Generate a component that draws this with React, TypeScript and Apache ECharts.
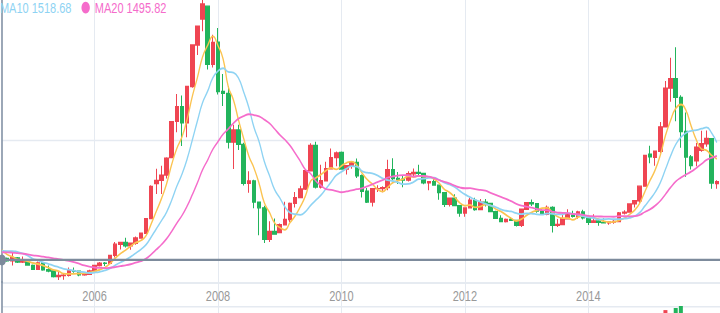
import React, { useEffect, useRef } from 'react';
import * as echarts from 'echarts';

// ---- categories: monthly, Jul 2004 .. Mar 2016 (last slot empty) ----
const firstYear = 2004;
const firstMonth = 7;
const categoryCount = 141;
const categories: string[] = [];
for (let i = 0; i < categoryCount; i++) {
  const m = firstMonth - 1 + i;
  const y = firstYear + Math.floor(m / 12);
  const mm = (m % 12) + 1;
  categories.push(`${y}-${mm < 10 ? '0' + mm : mm}`);
}

const yearTicks = ['2006-01', '2008-01', '2010-01', '2012-01', '2014-01'];

// ---- monthly OHLC (Jul 2004 .. Feb 2016) ----
const opens = [
  1399, 1386, 1342, 1396, 1320, 1340,
  1261, 1191, 1306, 1181, 1159, 1060, 1080, 1083, 1162, 1155, 1092, 1099,
  1163, 1258, 1299, 1298, 1440, 1641, 1672, 1612, 1658, 1752, 1837, 2099,
  2728, 2786, 2881, 3196, 3845, 4109, 3820, 4471, 5218, 5683, 5914, 4871,
  5266, 4383, 4348, 3473, 3693, 3433, 2736, 2775, 2397, 2293, 1728, 1871,
  1849, 1991, 2082, 2373, 2477, 2633, 2959, 3412, 2667, 2779, 2996, 3195,
  3289, 2989, 3052, 3110, 2871, 2592, 2398, 2638, 2639, 2656, 2979, 2820,
  2808, 2791, 2905, 2928, 2911, 2743, 2762, 2701, 2567, 2359, 2468, 2333,
  2199, 2293, 2428, 2263, 2397, 2373, 2226, 2103, 2047, 2086, 2069, 1980,
  2269, 2385, 2366, 2237, 2178, 2301, 1979, 1994, 2098, 2175, 2141, 2220,
  2116, 2033, 2056, 2033, 2026, 2039, 2048, 2202, 2217, 2364, 2420, 2683,
  3258, 3200, 3310, 3748, 4442, 4612, 4277, 3664, 3206, 3140, 3325, 3445,
  3536, 2730,
];
const closes = [
  1386.2, 1342.06, 1396.7, 1320.54, 1340.77, 1266.5,
  1191.82, 1306.0, 1181.24, 1159.15, 1060.74, 1080.94, 1083.03, 1162.8, 1155.61, 1092.82, 1099.26, 1161.06,
  1258.05, 1299.03, 1298.3, 1440.22, 1641.3, 1672.21, 1612.73, 1658.64, 1752.42, 1837.99, 2099.29, 2675.47,
  2786.34, 2881.07, 3183.98, 3841.27, 4109.65, 3820.7, 4471.03, 5218.83, 5552.3, 5954.77, 4871.78, 5261.56,
  4383.39, 4348.54, 3472.71, 3693.11, 3433.35, 2736.1, 2775.72, 2397.37, 2293.78, 1728.79, 1871.16, 1820.81,
  1990.66, 2082.85, 2373.21, 2477.57, 2632.93, 2959.36, 3412.06, 2667.74, 2779.43, 2995.85, 3195.3, 3277.14,
  2989.29, 3051.94, 3109.1, 2870.61, 2592.15, 2398.37, 2637.5, 2638.8, 2655.66, 2978.83, 2820.18, 2808.08,
  2790.69, 2905.05, 2928.11, 2911.51, 2743.47, 2762.08, 2701.73, 2567.34, 2359.22, 2468.25, 2333.41, 2199.42,
  2292.61, 2428.49, 2262.79, 2396.32, 2372.23, 2225.43, 2103.63, 2047.52, 2086.17, 2068.88, 1980.12, 2269.13,
  2385.42, 2365.59, 2236.62, 2177.91, 2300.59, 1979.21, 1993.8, 2098.38, 2174.67, 2141.61, 2220.5, 2115.98,
  2033.08, 2056.3, 2033.31, 2026.36, 2039.21, 2048.33, 2201.56, 2217.2, 2363.87, 2420.18, 2682.83, 3234.68,
  3210.36, 3310.3, 3747.9, 4441.66, 4611.74, 4277.22, 3663.73, 3205.99, 3052.78, 3382.56, 3445.4, 3539.18,
  2737.6, 2763.49,
];
const lows = [
  1336, 1327, 1259, 1301, 1301, 1259,
  1177, 1189, 1165, 1136, 1043, 998, 1004, 1061, 1126, 1067, 1074, 1090,
  1160, 1240, 1250, 1290, 1400, 1544, 1580, 1541, 1630, 1750, 1830, 2090,
  2540, 2541, 2821, 3196, 3650, 3404, 3563, 4450, 5036, 5462, 4778, 4812,
  4330, 4123, 3357, 2990, 3333, 2693, 2566, 2284, 1802, 1664, 1678, 1814,
  1844, 1991, 2037, 2300, 2466, 2615, 2959, 2639, 2639, 2770, 2990, 3039,
  2986, 2890, 2996, 2827, 2481, 2382, 2319, 2580, 2573, 2610, 2775, 2721,
  2661, 2765, 2838, 2865, 2715, 2610, 2692, 2437, 2307, 2319, 2321, 2134,
  2132, 2290, 2242, 2262, 2318, 2220, 2100, 2045, 2029, 2057, 1959, 1949,
  2264, 2327, 2206, 2165, 2162, 1849, 1951, 1994, 2082, 2122, 2098, 2085,
  1985, 2032, 1974, 2024, 1992, 2010, 2034, 2172, 2205, 2300, 2364, 2676,
  3095, 3049, 3276, 3736, 4198, 3847, 3373, 2851, 2983, 3039, 3300, 3389,
  2638, 2638,
];
const highs = [
  1440, 1400, 1496, 1410, 1420, 1351,
  1276, 1329, 1310, 1260, 1164, 1146, 1110, 1223, 1223, 1160, 1110, 1180,
  1270, 1320, 1320, 1445, 1678, 1683, 1757, 1660, 1780, 1850, 2100, 2698,
  2994, 3049, 3200, 3842, 4335, 4312, 4472, 5219, 5559, 6124, 5914, 5400,
  5522, 4695, 4472, 3786, 3786, 3460, 2952, 2800, 2400, 2333, 2051, 2100,
  2012, 2402, 2390, 2580, 2688, 2965, 3454, 3478, 3068, 3123, 3361, 3306,
  3306, 3060, 3135, 3181, 2890, 2650, 2650, 2700, 2680, 3159, 3186, 2935,
  2867, 2950, 3000, 3067, 2920, 2765, 2827, 2707, 2568, 2480, 2536, 2342,
  2300, 2478, 2476, 2454, 2453, 2386, 2240, 2160, 2100, 2130, 2080, 2276,
  2392, 2444, 2372, 2270, 2335, 2320, 2092, 2198, 2270, 2242, 2243, 2260,
  2123, 2177, 2075, 2107, 2054, 2078, 2218, 2248, 2365, 2426, 2684, 3239,
  3406, 3324, 3835, 4572, 4986, 5178, 4317, 4006, 3243, 3457, 3678, 3684,
  3539, 2790,
];
// closes of the 19 months before the visible window (Dec 2002 .. Jun 2004), used by the averages
const priorCloses = [
  1357.65, 1499.81, 1511.93, 1510.42, 1521.44, 1576.27, 1486.85, 1476.74, 1421.29, 1367.16,
  1348.3, 1397.22, 1497.04, 1590.73, 1675.07, 1741.62, 1595.59, 1555.91, 1399.16,
];

// volume bars that reach into the visible strip
const volumeMonths = ['2015-04', '2015-06', '2015-07'];
const volumeValues = [5750, 5920, 6080];

const pointerLevel = 1357;

// ---- styles ----
const FONT = '"Liberation Sans", Arial, sans-serif';
const UP = '#ef4552';
const DOWN = '#22b45c';
const MA5C = '#fbc350';
const MA10C = '#8ed3f3';
const MA20C = '#f56ccb';
const GRIDC = '#e5eaf1';
const AXISC = '#8392a5';
const SCALE_Y = 313 / 224;

function movingAverage(period: number): number[] {
  const all = priorCloses.concat(closes);
  const offset = priorCloses.length;
  return closes.map((_, i) => {
    let sum = 0;
    for (let k = 0; k < period; k++) sum += all[offset + i - k];
    return +(sum / period).toFixed(2);
  });
}

export default function App() {
  const ref = useRef<HTMLDivElement>(null);
  useEffect(() => {
    const chart = echarts.init(ref.current!, undefined, { renderer: 'svg' });
    const ma: Record<string, number[]> = {
      MA5: movingAverage(5),
      MA10: movingAverage(10),
      MA20: movingAverage(20),
    };
    const candles = opens.map((o, i) => [o, closes[i], lows[i], highs[i]]);
    const volumes = categories.map((c) => {
      const k = volumeMonths.indexOf(c);
      if (k < 0) return '-';
      const i = categories.indexOf(c);
      return {
        value: volumeValues[k],
        itemStyle: { color: closes[i] >= opens[i] ? UP : DOWN },
      };
    });
    const isYearTick = (_: number, v: string) => yearTicks.indexOf(v) >= 0;
    const gridLine = { show: true, interval: isYearTick, lineStyle: { color: GRIDC, width: 1 } };

    chart.setOption({
      animation: false,
      textStyle: { fontFamily: FONT },
      legend: {
        data: [
          { name: 'MA10', textStyle: { color: MA10C } },
          { name: 'MA20', textStyle: { color: MA20C } },
        ],
        left: -13.5,
        top: 0,
        padding: 0,
        itemGap: 10,
        itemWidth: 8.4,
        itemHeight: 8.4,
        icon: 'circle',
        textStyle: { fontSize: 11, fontFamily: FONT },
        formatter: (name: string) => `${name} ${ma[name][0].toFixed(2)}`,
      },
      grid: [
        { left: 2, top: -3, width: 720, height: 204.9, outerBoundsMode: 'none', containLabel: false },
        { left: 2, top: 201.9, width: 720, height: 71.2, outerBoundsMode: 'none', containLabel: false },
      ],
      xAxis: [
        {
          type: 'category',
          gridIndex: 0,
          data: categories,
          boundaryGap: false,
          axisLine: { show: false },
          axisTick: { show: false },
          axisLabel: {
            interval: isYearTick,
            formatter: (v: string) => v.slice(0, 4),
            color: '#999',
            fontSize: 11,
            margin: 4,
            fontFamily: FONT,
          },
          splitLine: gridLine,
        },
        {
          type: 'category',
          gridIndex: 1,
          data: categories,
          boundaryGap: false,
          axisLine: { show: false },
          axisTick: { show: false },
          axisLabel: { show: false },
          splitLine: gridLine,
        },
      ],
      yAxis: [
        {
          type: 'value',
          gridIndex: 0,
          min: 960,
          max: 6100,
          interval: 2550,
          axisLabel: { show: false },
          axisTick: { show: false },
          axisLine: { show: true, lineStyle: { color: AXISC, width: 1.6 } },
          splitLine: { show: true, lineStyle: { color: GRIDC, width: 1 } },
        },
        {
          type: 'value',
          gridIndex: 1,
          min: 0,
          max: 8000,
          interval: 2000,
          axisLabel: { show: false },
          axisTick: { show: false },
          axisLine: { show: true, lineStyle: { color: AXISC, width: 1.6 } },
          splitLine: { show: true, lineStyle: { color: GRIDC, width: 1 } },
        },
      ],
      series: [
        {
          name: 'K',
          type: 'candlestick',
          xAxisIndex: 0,
          yAxisIndex: 0,
          data: candles,
          barWidth: 4,
          itemStyle: {
            color: UP,
            color0: DOWN,
            borderColor: UP,
            borderColor0: DOWN,
            borderWidth: 1,
          },
          markLine: {
            silent: true,
            symbol: ['circle', 'none'],
            symbolSize: 8,
            label: { show: false },
            lineStyle: { color: '#7d8b9c', width: 1.5, type: 'solid' },
            data: [{ yAxis: pointerLevel }],
          },
        },
        ...(['MA5', 'MA10', 'MA20'] as const).map((name) => {
          const c = name === 'MA5' ? MA5C : name === 'MA10' ? MA10C : MA20C;
          return {
            name,
            type: 'line',
            xAxisIndex: 0,
            yAxisIndex: 0,
            data: ma[name],
            smooth: true,
            showSymbol: false,
            symbol: 'none',
            itemStyle: { color: c },
            lineStyle: { color: c, width: 1.3 },
          };
        }),
        {
          name: 'Volume',
          type: 'bar',
          xAxisIndex: 1,
          yAxisIndex: 1,
          data: volumes,
          barWidth: 4,
        },
      ],
    });
    return () => chart.dispose();
  }, []);

  return (
    <div
      style={{
        position: 'absolute',
        left: 0,
        top: 0,
        width: 720,
        height: 313,
        overflow: 'hidden',
        background: '#fff',
      }}
    >
      <div
        ref={ref}
        style={{
          width: 720,
          height: 224,
          transform: `scaleY(${SCALE_Y})`,
          transformOrigin: '0 0',
        }}
      />
    </div>
  );
}
